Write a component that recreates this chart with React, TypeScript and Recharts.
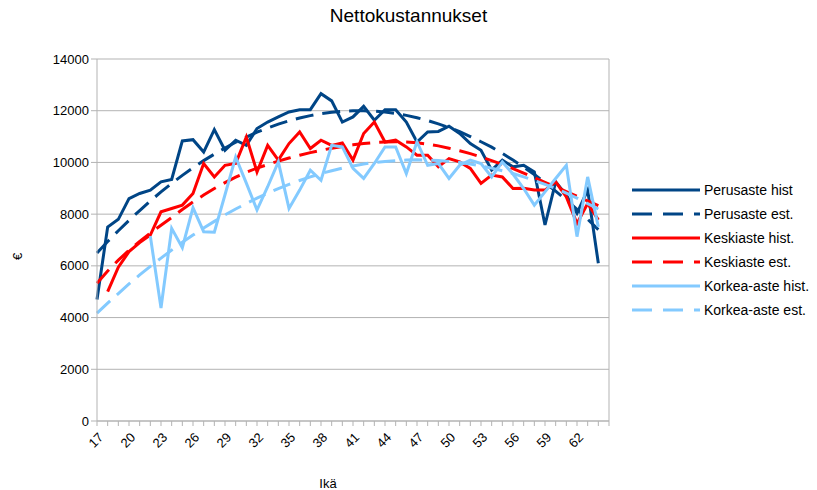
import React from 'react';
import {
  LineChart,
  Line,
  XAxis,
  YAxis,
  CartesianGrid,
  Legend,
  ReferenceLine
} from 'recharts';

const FONT = '"Liberation Sans", Arial, sans-serif';

// ages 17..64
const ages = [
  17, 18, 19, 20, 21, 22, 23, 24, 25, 26, 27, 28, 29, 30, 31, 32,
  33, 34, 35, 36, 37, 38, 39, 40, 41, 42, 43, 44, 45, 46, 47, 48,
  49, 50, 51, 52, 53, 54, 55, 56, 57, 58, 59, 60, 61, 62, 63, 64
];

const perusasteHist = [
  4700, 7500, 7800, 8600, 8800, 8930, 9250, 9340, 10830, 10880, 10400, 11270, 10470, 10860, 10660, 11310,
  11560, 11760, 11950, 12040, 12040, 12660, 12380, 11560, 11760, 12170, 11630, 12040, 12040, 11560, 10790, 11180,
  11200, 11400, 11120, 10730, 10470, 9700, 10090, 9830, 9890, 9630, 7580, 9250, 8740, 8030, 8930, 6100
];

const perusasteEst = [
  6500, 6940, 7360, 7760, 8140, 8510, 8860, 9190, 9500, 9790, 10070, 10320, 10560, 10780, 10980, 11170,
  11330, 11480, 11610, 11720, 11810, 11890, 11940, 11980, 12000, 12000, 11980, 11950, 11890, 11820, 11730, 11620,
  11490, 11350, 11190, 11000, 10800, 10590, 10350, 10090, 9820, 9530, 9220, 8890, 8550, 8180, 7800, 7400
];

const keskiasteHist = [
  null, 5000, 5950, 6550, 6900, 7190, 8090, 8220, 8350, 8800, 9960, 9440, 9890, 9960, 10980, 9630,
  10660, 10090, 10730, 11180, 10540, 10860, 10660, 10750, 10090, 11120, 11560, 10790, 10860, 10600, 10280, 10280,
  9830, 10150, 10020, 9770, 9190, 9510, 9440, 8990, 9000, 8930, 8930, 9250, 8670, 7640, 8410, 7780
];

const keskiasteEst = [
  5330, 5800, 6220, 6600, 6950, 7270, 7570, 7870, 8180, 8470, 8740, 8990, 9220, 9430, 9620, 9780,
  9920, 10050, 10170, 10280, 10380, 10470, 10550, 10620, 10680, 10730, 10770, 10790, 10800, 10790, 10760, 10710,
  10640, 10550, 10450, 10340, 10210, 10070, 9920, 9760, 9590, 9410, 9230, 9050, 8870, 8690, 8510, 8330
];

const korkeaasteHist = [
  null, null, null, null, null, 7150, 4370, 7450, 6700, 8250, 7320, 7300, 8750, 10210, 9200, 8160,
  9060, 10020, 8220, 8930, 9700, 9310, 10660, 10600, 9770, 9380, 9960, 10600, 10600, 9570, 10800, 9890,
  9960, 9380, 9890, 10090, 9960, 9440, 10020, 9550, 8990, 8350, 8860, 9380, 9890, 7130, 9440, 7510
];

const korkeaasteEst = [
  4170, 4560, 4930, 5300, 5650, 5980, 6300, 6610, 6910, 7190, 7460, 7720, 7970, 8200, 8410, 8620,
  8810, 8990, 9150, 9300, 9440, 9570, 9680, 9780, 9860, 9940, 10000, 10040, 10070, 10090, 10100, 10090,
  10070, 10040, 10000, 9940, 9860, 9780, 9680, 9570, 9440, 9300, 9150, 8990, 8810, 8620, 8410, 8200
];

// every age gets a tick mark, only these get a label
const xTickMarks = [...ages, 65];
const xTickLabels = [17, 20, 23, 26, 29, 32, 35, 38, 41, 44, 47, 50, 53, 56, 59, 62];
const yTicks = [0, 2000, 4000, 6000, 8000, 10000, 12000, 14000];

const DARK = '#004586';
const RED = '#ff0000';
const LIGHT = '#83caff';
const DASH = '18 9';

const series = [
  { key: 'perusHist', name: 'Perusaste hist', color: DARK, dashed: false },
  { key: 'perusEst', name: 'Perusaste est.', color: DARK, dashed: true },
  { key: 'keskiHist', name: 'Keskiaste hist.', color: RED, dashed: false },
  { key: 'keskiEst', name: 'Keskiaste est.', color: RED, dashed: true },
  { key: 'korkeaHist', name: 'Korkea-aste hist.', color: LIGHT, dashed: false },
  { key: 'korkeaEst', name: 'Korkea-aste est.', color: LIGHT, dashed: true }
];

const data = ages.map((age, i) => ({
  age,
  perusHist: perusasteHist[i],
  perusEst: perusasteEst[i],
  keskiHist: keskiasteHist[i],
  keskiEst: keskiasteEst[i],
  korkeaHist: korkeaasteHist[i],
  korkeaEst: korkeaasteEst[i]
}));

const AgeTick = (props: any) => {
  const { x, y, payload } = props;
  if (!xTickLabels.includes(payload.value)) return null;
  return (
    <g transform={`translate(${x + 4},${y + 7})`}>
      <text
        transform="rotate(-45)"
        textAnchor="end"
        dominantBaseline="central"
        fontSize={13}
        fontFamily={FONT}
        fill="#000"
      >
        {payload.value}
      </text>
    </g>
  );
};

const renderLegend = () => (
  <div style={{ fontFamily: FONT, fontSize: 14, color: '#000' }}>
    {series.map((s) => (
      <div key={s.key} style={{ display: 'flex', alignItems: 'center', height: 24 }}>
        <svg width={70} height={10}>
          <line
            x1={1}
            y1={5}
            x2={69}
            y2={5}
            stroke={s.color}
            strokeWidth={3}
            strokeDasharray={s.dashed ? '20 11' : undefined}
          />
        </svg>
        <span style={{ marginLeft: 3, whiteSpace: 'nowrap' }}>{s.name}</span>
      </div>
    ))}
  </div>
);

export default function App() {
  return (
    <div style={{ position: 'absolute', left: 0, top: 0, width: 817, height: 490, background: '#fff' }}>
      <div
        style={{
          position: 'absolute',
          top: 5,
          left: 0,
          width: 817,
          textAlign: 'center',
          fontFamily: FONT,
          fontSize: 19,
          color: '#000'
        }}
      >
        Nettokustannukset
      </div>
      <LineChart
        width={817}
        height={490}
        data={data}
        margin={{ top: 59, right: 208, left: 0, bottom: 0 }}
      >
        <CartesianGrid stroke="#b3b3b3" vertical={false} />
        <XAxis
          type="number"
          dataKey="age"
          domain={[17, 65]}
          ticks={xTickMarks}
          interval={0}
          tick={<AgeTick />}
          tickSize={5}
          tickLine={{ stroke: '#b3b3b3' }}
          axisLine={{ stroke: '#b3b3b3' }}
          height={69}
          label={{
            value: 'Ikä',
            position: 'insideBottom',
            offset: 2,
            dx: -25,
            fontSize: 13,
            fontFamily: FONT,
            fill: '#000'
          }}
        />
        <YAxis
          type="number"
          domain={[0, 14000]}
          ticks={yTicks}
          width={97}
          tickSize={6}
          tickLine={{ stroke: '#b3b3b3' }}
          axisLine={{ stroke: '#b3b3b3' }}
          tick={{ fontSize: 13, fontFamily: FONT, fill: '#000' }}
          label={{
            value: '€',
            angle: -90,
            position: 'insideLeft',
            offset: 17,
            dy: 20,
            fontSize: 13,
            fontFamily: FONT,
            fill: '#000'
          }}
        />
        <ReferenceLine x={65} stroke="#b3b3b3" />
        {series.map((s) => (
          <Line
            key={s.key}
            type="linear"
            dataKey={s.key}
            name={s.name}
            stroke={s.color}
            strokeWidth={3}
            strokeDasharray={s.dashed ? DASH : undefined}
            dot={false}
            activeDot={false}
            isAnimationActive={false}
          />
        ))}
        <Legend
          layout="vertical"
          align="center"
          verticalAlign="middle"
          content={renderLegend}
          wrapperStyle={{ left: 631, top: 178, width: 186 }}
        />
      </LineChart>
    </div>
  );
}
